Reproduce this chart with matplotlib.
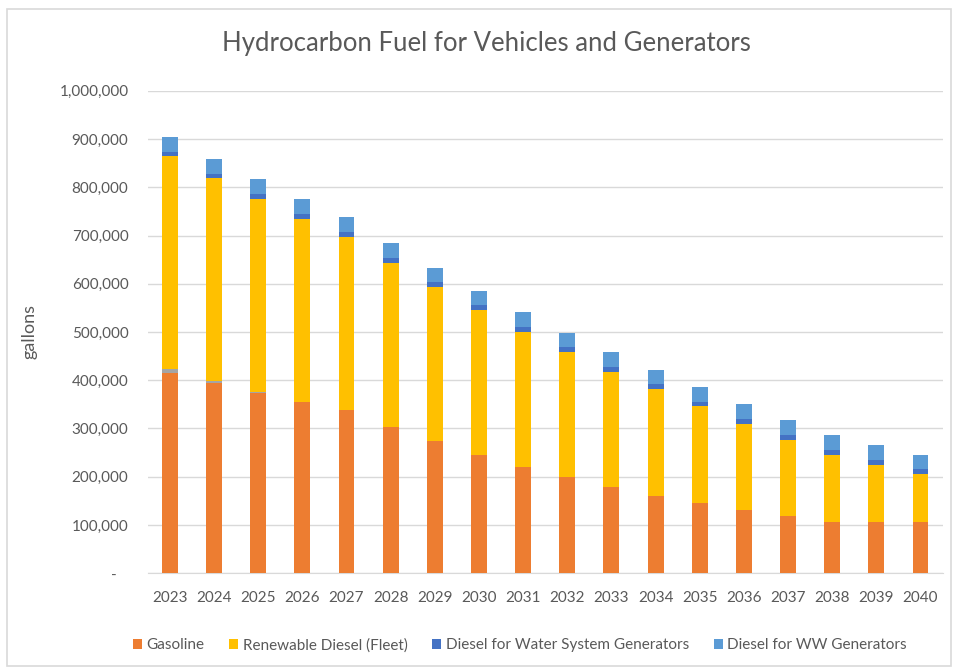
import numpy as np
import matplotlib
matplotlib.use("Agg")
import matplotlib.pyplot as plt
from matplotlib.patches import Rectangle
from matplotlib.ticker import FuncFormatter

plt.rcParams['font.family'] = ['Lato', 'DejaVu Sans']

# ------------------------------- DATA ---------------------------------------
years = [str(y) for y in range(2023, 2041)]
gasoline   = [415000, 394000, 373000, 355000, 338000, 303000, 274000, 245000, 221000,
              199000, 178000, 160000, 145000, 131000, 119000, 107000, 107000, 107000]
diesel_fleet = [9000, 4000, 2000, 0, 0, 0, 0, 0, 0, 0, 0, 0, 0, 0, 0, 0, 0, 0]
renewable  = [441000, 421000, 401000, 380000, 359000, 340000, 319000, 301000, 279000,
              260000, 240000, 222000, 201000, 178000, 158000, 138000, 118000, 98000]
water_gen  = [9000, 9000, 10000, 10000, 10000, 11000, 11000, 9000, 10000,
              10000, 10000, 10000, 9000, 11000, 10000, 10000, 10000, 10000]
ww_gen     = [31000, 31000, 31000, 31000, 32000, 31000, 29000, 31000, 31000,
              29000, 30000, 29000, 31000, 31000, 30000, 31000, 30000, 30000]

series = [
    ('Gasoline', gasoline, '#ED7D31'),
    (None, diesel_fleet, '#A5A5A5'),
    ('Renewable Diesel (Fleet)', renewable, '#FFC000'),
    ('Diesel for Water System Generators', water_gen, '#4472C4'),
    ('Diesel for WW Generators', ww_gen, '#5B9BD5'),
]

# ------------------------------- PLOT ---------------------------------------
fig = plt.figure(figsize=(9.54, 6.68), dpi=100)
ax = fig.add_axes([0.155, 0.142, 0.833, 0.722])

x = np.arange(len(years))
bottom = np.zeros(len(years))
handles = []
for label, vals, col in series:
    b = ax.bar(x, vals, bottom=bottom, width=0.36, color=col, zorder=3)
    if label:
        handles.append((b, label))
    bottom += np.array(vals)

ax.set_ylim(0, 1000000)
ax.set_xlim(-0.5, len(years) - 0.5)
ax.set_yticks(np.arange(0, 1000001, 100000))
ax.yaxis.set_major_formatter(FuncFormatter(lambda v, p: '-   ' if v == 0 else f'{int(v):,}'))
ax.set_xticks(x)
ax.set_xticklabels(years)
ax.tick_params(axis='both', length=0, labelsize=11, labelcolor='#595959')
ax.tick_params(axis='y', pad=14)
ax.tick_params(axis='x', pad=13)
ax.grid(axis='y', color='#D9D9D9', lw=1, zorder=0)
for s in ['left', 'right', 'top']:
    ax.spines[s].set_visible(False)
ax.spines['bottom'].set_color('#D9D9D9')
ax.set_ylabel('gallons', fontsize=13, color='#595959', labelpad=16)

fig.text(0.51, 0.935, 'Hydrocarbon Fuel for Vehicles and Generators',
         ha='center', va='center', fontsize=18.5, color='#595959')

fig.legend([h for h, _ in handles], [l for _, l in handles], loc='center',
           bbox_to_anchor=(0.545, 0.034), ncol=4, frameon=False, fontsize=11,
           handlelength=0.6, handleheight=0.6, handletextpad=0.3, columnspacing=1.6,
           labelcolor='#595959')

fig.patches.append(Rectangle((7 / 954, 0.003), 0.99, 1 - 9 / 668 - 0.003,
                             transform=fig.transFigure, fill=False,
                             edgecolor='#D9D9D9', lw=1.2))

fig.savefig('out.png', dpi=100)
